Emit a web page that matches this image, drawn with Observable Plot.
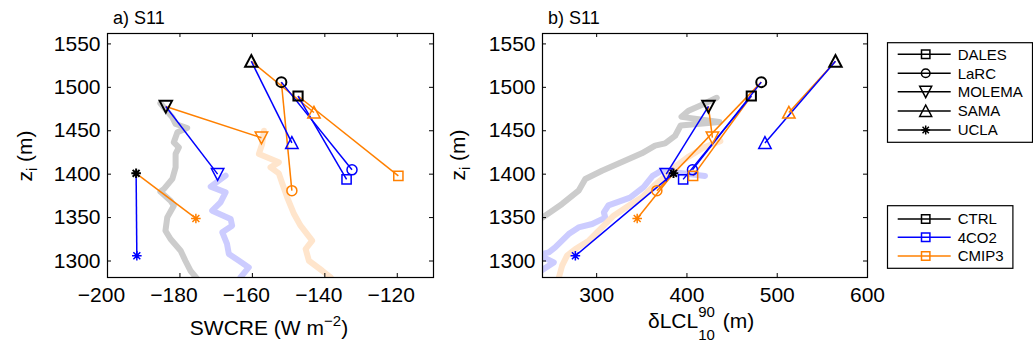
<!DOCTYPE html>
<html><head><meta charset="utf-8">
<script src="https://cdn.jsdelivr.net/npm/d3@7"></script>
<script src="https://cdn.jsdelivr.net/npm/@observablehq/plot@0.6"></script>
<style>
body{margin:0;background:#fff;}
#wrap{position:relative;width:1033px;height:345px;overflow:hidden;background:#fff;font-family:"Liberation Sans",Arial,Helvetica,sans-serif;}
#wrap > svg{position:absolute;top:0;}
</style></head><body><div id="wrap"></div>
<script>
// ---------------- data ----------------
const models = ["DALES", "LaRC", "MOLEMA", "SAMA", "UCLA"];
const scenarios = ["CTRL", "4CO2", "CMIP3"];
const scenarioColors = ["#000000", "#0000ff", "#ff8000"];
const traceColors = ["#cccccc", "#ccccff", "#ffe5cc"];

// inversion height z_i (m), per model
const ziCTRL  = [1490, 1506, 1478, 1530, 1401];
const zi4CO2  = [1394, 1405, 1400, 1436, 1306];
const ziCMIP3 = [1398, 1381, 1442, 1471, 1349];

// panel a: SWCRE (W m-2)
const swcreCTRL  = [-147.4, -152.0, -183.9, -160.3, -192.1];
const swcre4CO2  = [-134.0, -132.5, -169.6, -149.1, -191.9];
const swcreCMIP3 = [-119.7, -149.1, -157.5, -143.0, -175.6];

// panel b: dLCL 10-90 (m)
const lclCTRL  = [471.3, 482.3, 423.8, 564.5, 385.1];
const lcl4CO2  = [395.8, 406.1, 377.0, 486.4, 276.4];
const lclCMIP3 = [406.8, 366.7, 428.2, 512.9, 344.9];

// background traces (thick light lines)
const traceA_CTRL_x  = [-185.4,-182.1,-181.2,-178.0,-180.7,-181.7,-180.3,-181.2,-181.2,-182.1,-184.4,-185.4,-182.6,-181.7,-183.5,-184.0,-182.6,-179.8,-178.5,-177.1,-175.2,-174.0];
const traceA_CTRL_z  = [1481.6,1465.4,1457.8,1453.2,1448.2,1436.6,1430.9,1423.3,1407.8,1394.5,1383.0,1379.9,1369.5,1363.7,1350.2,1334.9,1325.3,1311.9,1300.3,1288.8,1279.3,1272];
const traceA_4CO2_x  = [-167.4,-171.5,-167.4,-168.8,-171.1,-166.0,-165.6,-168.3,-167.0,-166.5,-163.7,-161.0,-163.3,-164.0];
const traceA_4CO2_z  = [1398.3,1385.6,1379.0,1367.5,1357.9,1348.4,1340.7,1333.0,1319.6,1308.1,1300.3,1292.6,1281.1,1274];
const traceA_CMIP3_x = [-156.8,-157.3,-158.2,-152.7,-155.0,-152.7,-151.7,-150.4,-148.5,-146.7,-143.5,-145.3,-144.4,-140.7,-138.4,-137.5];
const traceA_CMIP3_z = [1450.1,1434.8,1423.3,1413.6,1407.8,1400.9,1388.7,1373.3,1354.1,1340.7,1323.4,1313.8,1300.3,1288.8,1281.1,1275];

const traceB_CTRL_x  = [433,415,401.7,394,436,393,386.8,375.8,364.7,350,328,305.9,287.4,280,261.7,240,228];
const traceB_CTRL_z  = [1488,1479,1473,1466,1460,1456,1444,1435.5,1432.8,1424,1414,1404,1394.5,1381,1365.7,1350,1342];
const traceB_4CO2_x  = [420,395,372,362,352,337,313,308,309.5,295,280,269,254,247,236,252.5,236];
const traceB_4CO2_z  = [1398,1401,1404,1398,1385,1373,1364,1356,1350,1342.6,1338.7,1331,1315.7,1310,1307,1298.4,1287];
const traceB_CMIP3_x = [437,419,400.6,385.9,374.7,363.6,350.1,335.4,318.8,305.9,291.2,276.4,267.2,261.7,258,257];
const traceB_CMIP3_z = [1438,1431,1419.4,1407.8,1396.3,1386.8,1373.3,1363.7,1352.2,1338.7,1323.4,1313.8,1306.1,1294.6,1280.4,1270];

const yTicks = [1300, 1350, 1400, 1450, 1500, 1550];
const xTicksA = [-200, -180, -160, -140, -120];
const xTicksB = [300, 400, 500, 600];

// ---------------- symbols ----------------
const rad = s => Math.sqrt(s / Math.PI);
const symSquare = {draw(c, s){const r = rad(s); c.rect(-r, -r, 2*r, 2*r);}};
const symCircle = {draw(c, s){const r = rad(s); c.moveTo(r, 0); c.arc(0, 0, r, 0, 2*Math.PI); c.closePath();}};
const symTriDown = {draw(c, s){const r = rad(s); c.moveTo(0, r); c.lineTo(r, -0.9*r); c.lineTo(-r, -0.9*r); c.closePath();}};
const symTriUp = {draw(c, s){const r = rad(s); c.moveTo(0, -r); c.lineTo(r, 0.9*r); c.lineTo(-r, 0.9*r); c.closePath();}};
const symStar = {draw(c, s){const r = rad(s), d = r*0.72;
  c.moveTo(-r,0); c.lineTo(r,0); c.moveTo(0,-r); c.lineTo(0,r);
  c.moveTo(-d,-d); c.lineTo(d,d); c.moveTo(-d,d); c.lineTo(d,-d);}};
const modelSymbols = [symSquare, symCircle, symTriDown, symTriUp, symStar];
const modelR = [4.6, 5.0, 6.2, 6.2, 4.8];

const fmt = d => d < 0 ? "\u2212" + Math.abs(d) : String(d);
const FONT = '"Liberation Sans", Arial, Helvetica, sans-serif';

function makePanel({xs, zs, traces, xDomain, xTicks, marginLeft, marginRight, width, labelDx}) {
  const W = width, H = 345, mt = 33, mb = 68;
  const fw = W - marginLeft - marginRight, fh = H - mt - mb;
  const pts = [];
  scenarios.forEach((s, si) => models.forEach((m, mi) =>
    pts.push({model: m, mi, scen: s, x: xs[si][mi], z: zs[si][mi]})));
  const links = [];
  [2, 1].forEach(si => models.forEach((m, mi) =>
    links.push({model: m, scen: scenarios[si], x1: xs[0][mi], y1: zs[0][mi], x2: xs[si][mi], y2: zs[si][mi]})));
  const marks = [];
  traces.forEach((t, ti) => {
    const data = t[0].map((x, i) => ({x, z: t[1][i]}));
    marks.push(Plot.line(data, {x: "x", y: "z", stroke: traceColors[ti], strokeWidth: 6, clip: true}));
  });
  marks.push(Plot.link(links, {x1: "x1", y1: "y1", x2: "x2", y2: "y2", stroke: "scen", strokeWidth: 1.5}));
  [1, 2, 0].forEach(si => models.forEach((m, mi) => {
    marks.push(Plot.dot(pts.filter(p => p.model === m && p.scen === scenarios[si]), {
      x: "x", y: "z", stroke: "scen", symbol: modelSymbols[mi], r: modelR[mi],
      strokeWidth: si === 0 ? 2 : 1.5, fill: "none"}));
  }));
  marks.push(Plot.tickX(xTicks, {x: d => d, insetTop: fh - 4, stroke: "black"}));
  marks.push(Plot.tickX(xTicks, {x: d => d, insetBottom: fh - 4, stroke: "black"}));
  marks.push(Plot.tickY(yTicks, {y: d => d, insetRight: fw - 4, stroke: "black"}));
  marks.push(Plot.tickY(yTicks, {y: d => d, insetLeft: fw - 4, stroke: "black"}));
  marks.push(Plot.frame({stroke: "black", strokeWidth: 1.2}));
  marks.push(Plot.axisX({ticks: xTicks, tickSize: 0, tickPadding: 10, tickFormat: fmt, label: null, dx: labelDx}));
  marks.push(Plot.axisY({ticks: yTicks, tickSize: 0, tickPadding: 7, tickFormat: fmt, label: null}));
  return Plot.plot({
    width: W, height: H, marginTop: mt, marginBottom: mb, marginLeft, marginRight,
    style: {fontFamily: FONT, fontSize: "21px", background: "transparent", color: "black"},
    x: {domain: xDomain}, y: {domain: [1281, 1562]},
    color: {domain: scenarios, range: scenarioColors},
    marks
  });
}

const wrap = document.getElementById("wrap");

const pa = makePanel({
  xs: [swcreCTRL, swcre4CO2, swcreCMIP3], zs: [ziCTRL, zi4CO2, ziCMIP3],
  traces: [[traceA_CTRL_x, traceA_CTRL_z], [traceA_4CO2_x, traceA_4CO2_z], [traceA_CMIP3_x, traceA_CMIP3_z]],
  xDomain: [-200, -110], xTicks: xTicksA, marginLeft: 107, marginRight: 7, width: 440, labelDx: -6
});
pa.style.left = "0px";
wrap.appendChild(pa);

const pb = makePanel({
  xs: [lclCTRL, lcl4CO2, lclCMIP3], zs: [ziCTRL, zi4CO2, ziCMIP3],
  traces: [[traceB_CTRL_x, traceB_CTRL_z], [traceB_4CO2_x, traceB_4CO2_z], [traceB_CMIP3_x, traceB_CMIP3_z]],
  xDomain: [240, 600], xTicks: xTicksB, marginLeft: 102, marginRight: 43, width: 470, labelDx: 0
});
pb.style.left = "440px";
wrap.appendChild(pb);

// titles and axis labels
function ylabel(svg, x, y) {
  const t = d3.select(svg).append("text").attr("transform", `translate(${x},${y}) rotate(-90)`)
    .attr("text-anchor", "middle").attr("font-size", 21).attr("fill", "black");
  t.append("tspan").text("z");
  t.append("tspan").attr("font-size", 15).attr("dy", 5).text("i");
  t.append("tspan").attr("dy", -5).text(" (m)");
}
const sa = d3.select(pa), sb = d3.select(pb);
sa.append("text").attr("x", 113).attr("y", 24).attr("text-anchor", "start").attr("font-size", 18).attr("fill", "black").text("a) S11");
sb.append("text").attr("x", 108).attr("y", 24).attr("text-anchor", "start").attr("font-size", 18).attr("fill", "black").text("b) S11");
ylabel(pa, 32, 156);
ylabel(pb, 25, 155);
{
  const t = sa.append("text").attr("x", 269).attr("y", 335).attr("text-anchor", "middle").attr("font-size", 21).attr("fill", "black");
  t.append("tspan").text("SWCRE (W m");
  t.append("tspan").attr("font-size", 15).attr("dy", -9).text("\u22122");
  t.append("tspan").attr("dy", 9).text(")");
}
{
  const t = sb.append("text").attr("x", 208).attr("y", 328).attr("text-anchor", "start").attr("font-size", 21).attr("fill", "black");
  t.append("tspan").text("\u03b4LCL");
  const sup = t.append("tspan").attr("font-size", 15).attr("dy", -11).text("90");
  const w = sup.node().getComputedTextLength() || 16.7;
  t.append("tspan").attr("font-size", 15).attr("dx", -w).attr("dy", 23).text("10");
  t.append("tspan").attr("dy", -12).attr("dx", 2).text(" (m)");
}

// legends
const lg = d3.select(wrap).append("svg").attr("width", 153).attr("height", 345).style("left", "880px")
  .style("font-family", FONT);
function legendBox(y0, w, h, rows) {
  lg.append("rect").attr("x", 7.5).attr("y", y0).attr("width", w).attr("height", h)
    .attr("fill", "white").attr("stroke", "black").attr("stroke-width", 1.2);
  rows.forEach(r => {
    lg.append("line").attr("x1", 17.7).attr("x2", 70.7).attr("y1", r.y).attr("y2", r.y)
      .attr("stroke", r.color).attr("stroke-width", 1.5);
    lg.append("path").attr("transform", `translate(45.7,${r.y})`)
      .attr("d", d3.symbol().type(r.sym).size(Math.PI * r.r * r.r)())
      .attr("fill", "none").attr("stroke", r.color).attr("stroke-width", 1.5);
    lg.append("text").attr("x", 77.7).attr("y", r.y).attr("dy", "0.36em").attr("font-size", 15)
      .attr("fill", "black").text(r.label);
  });
}
const legR = [4.2, 4.3, 6.0, 6.0, 4.4];
legendBox(42.7, 145, 99.6, models.map((m, i) => ({label: m, sym: modelSymbols[i], r: legR[i], color: "black", y: [54.3, 73.3, 91.7, 111, 130][i]})));
legendBox(205.7, 125.4, 62.6, scenarios.map((s, i) => ({label: s, sym: symSquare, r: 4.2, color: scenarioColors[i], y: [219, 237.3, 256][i]})));
</script></body></html>
